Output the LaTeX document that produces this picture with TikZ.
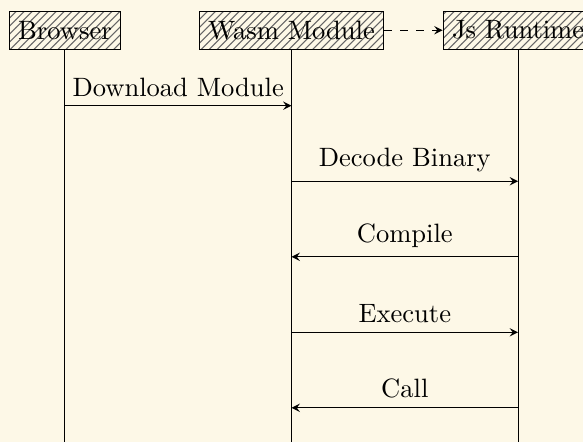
\documentclass[tikz,border=0pt]{standalone}
\usetikzlibrary{patterns,arrows}
\definecolor{paper}{HTML}{FDF8E7}
\tikzset{
	lifebox/.style = {draw, minimum height = 0.5cm, pattern = north east lines, pattern color = black!60},
	lifeline/.style = {thin},
	msg/.style = {->, >=stealth}
}
\begin{document}
\begin{tikzpicture}
	\fill[paper] (-0.86,0) rectangle (6.86,-5.85);
	\useasboundingbox (-0.86,0) rectangle (6.86,-5.85);
	% instances
	\node[lifebox] (browser) at (0,-0.4) {Browser};
	\node[lifebox] (wasm) at (3,-0.4) {Wasm Module};
	\node[lifebox] (js) at (6,-0.4) {Js Runtime};
	\draw[dashed, ->, >=stealth] (wasm) -- (js);
	% lifelines
	\coordinate (browser end) at (0,-5.9);
	\coordinate (wasm end) at (3,-5.9);
	\coordinate (js end) at (6,-5.9);
	\draw[lifeline] (browser) -- (browser end);
	\draw[lifeline] (wasm) -- (wasm end);
	\draw[lifeline] (js) -- (js end);
	% messages
	\draw[msg] (browser |- 0,-1.4) -- (wasm |- 0,-1.4) node[pos=.5, above] {Download Module};
	\draw[msg] (wasm |- 0,-2.4) -- (js |- 0,-2.4) node[pos=.5, above] {Decode Binary};
	\draw[msg] (js |- 0,-3.4) -- (wasm |- 0,-3.4) node[pos=.5, above] {Compile};
	\draw[msg] (wasm |- 0,-4.4) -- (js |- 0,-4.4) node[pos=.5, above] {Execute};
	\draw[msg] (js |- 0,-5.4) -- (wasm |- 0,-5.4) node[pos=.5, above] {Call};
\end{tikzpicture}
\end{document}
